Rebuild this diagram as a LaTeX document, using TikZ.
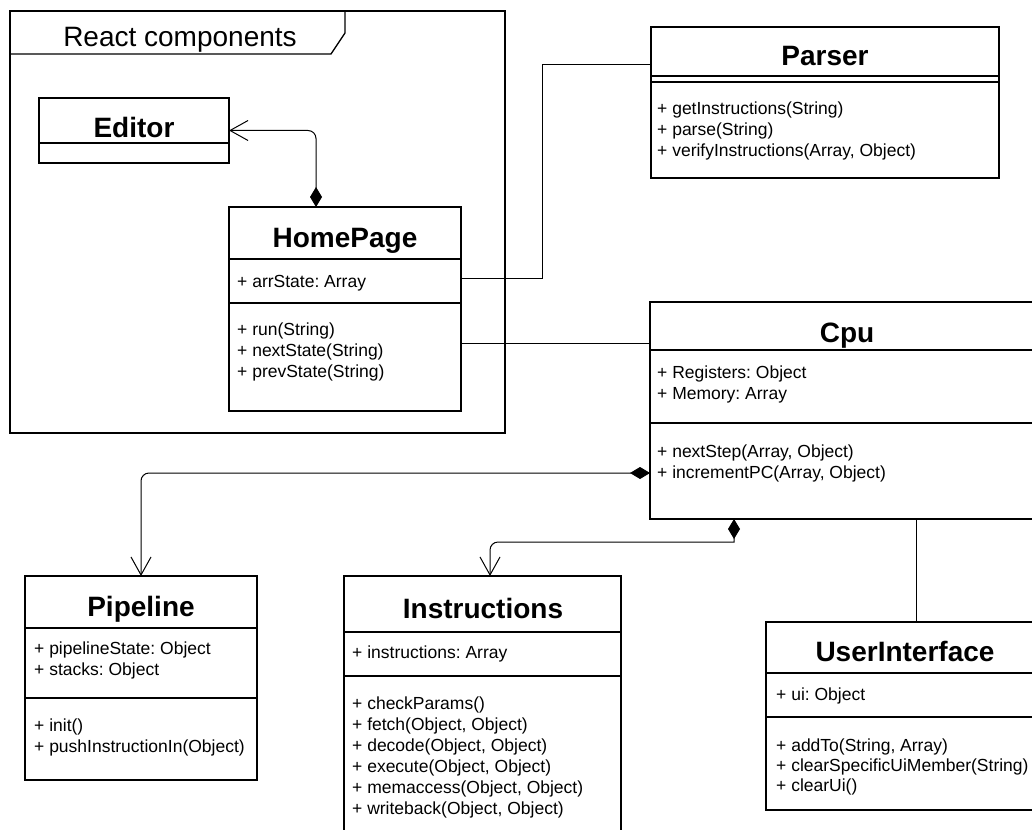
\documentclass[tikz,border=0pt]{standalone}
\usepackage{fontspec}
\setmainfont{Liberation Sans}
\usetikzlibrary{arrows.meta}
\frenchspacing
\begin{document}
\begin{tikzpicture}[x=1pt,y=-1pt,
  box/.style={draw=black, line width=1.3pt, fill=white, inner sep=0pt, outer sep=0pt, anchor=north west},
  sep/.style={line width=1.2pt},
  ctitle/.style={anchor=base, inner sep=0pt, font=\fontsize{28}{32}\selectfont\bfseries},
  mem/.style={anchor=base west, inner sep=0pt, font=\fontsize{17.5}{21}\selectfont},
  link/.style={line width=1pt},
  comp/.style={link, {Diamond[length=20pt,width=12pt]}-{Straight Barb[length=18pt,width=20pt]}},
]
\useasboundingbox (0,0) rectangle (1032,829);
\fill[white] (0,0) rectangle (1032,829);

% frame
\node[box, fill=none, minimum width=495pt, minimum height=422pt] (frame) at (10,11) {};
\draw[line width=1.3pt] (10,54) -- (331,54) -- (345,33) -- (345,11);
\node[anchor=base, inner sep=0pt, font=\fontsize{28}{32}\selectfont] (framelabel) at (180,47) {React components};

% Editor
\node[box, minimum width=190pt, minimum height=65pt] (editor) at (39,98) {};
\draw[sep] (editor.west |- 0,143) -- (editor.east |- 0,143);
\node[ctitle] (editorT) at (134,138) {Editor};

% HomePage
\node[box, minimum width=232pt, minimum height=204pt] (home) at (229,207) {};
\draw[sep] (home.west |- 0,259) -- (home.east |- 0,259);
\draw[sep] (home.west |- 0,303) -- (home.east |- 0,303);
\node[ctitle] (homeT) at (345,247) {HomePage};
\node[mem] (homeA1) at (237,287) {+ arrState: Array};
\node[mem] (homeM1) at (237,335) {+ run(String)};
\node[mem] (homeM2) at (237,356) {+ nextState(String)};
\node[mem] (homeM3) at (237,377) {+ prevState(String)};

% Parser
\node[box, minimum width=348pt, minimum height=151pt] (parser) at (651,27) {};
\draw[sep] (parser.west |- 0,76) -- (parser.east |- 0,76);
\draw[sep] (parser.west |- 0,82) -- (parser.east |- 0,82);
\node[ctitle] (parserT) at (825,66) {Parser};
\node[mem] (parserM1) at (657,115) {+ getInstructions(String)};
\node[mem] (parserM2) at (657,136) {+ parse(String)};
\node[mem] (parserM3) at (657,157) {+ verifyInstructions(Array, Object)};

% Cpu
\node[box, minimum width=394pt, minimum height=217pt] (cpu) at (650,302) {};
\draw[sep] (cpu.west |- 0,350) -- (cpu.east |- 0,350);
\draw[sep] (cpu.west |- 0,423) -- (cpu.east |- 0,423);
\node[ctitle] (cpuT) at (847,342) {Cpu};
\node[mem] (cpuA1) at (657,378) {+ Registers: Object};
\node[mem] (cpuA2) at (657,399) {+ Memory: Array};
\node[mem] (cpuM1) at (657,457) {+ nextStep(Array, Object)};
\node[mem] (cpuM2) at (657,478) {+ incrementPC(Array, Object)};

% Pipeline
\node[box, minimum width=232pt, minimum height=204pt] (pipeline) at (25,576) {};
\draw[sep] (pipeline.west |- 0,628) -- (pipeline.east |- 0,628);
\draw[sep] (pipeline.west |- 0,698) -- (pipeline.east |- 0,698);
\node[ctitle] (pipelineT) at (141,616) {Pipeline};
\node[mem] (pipelineA1) at (34,654) {+ pipelineState: Object};
\node[mem] (pipelineA2) at (34,675) {+ stacks: Object};
\node[mem] (pipelineM1) at (34,731) {+ init()};
\node[mem] (pipelineM2) at (34,752) {+ pushInstructionIn(Object)};

% Instructions
\node[box, minimum width=277pt, minimum height=264pt] (instr) at (344,576) {};
\draw[sep] (instr.west |- 0,632) -- (instr.east |- 0,632);
\draw[sep] (instr.west |- 0,676) -- (instr.east |- 0,676);
\node[ctitle] (instrT) at (483,618) {Instructions};
\node[mem] (instrA1) at (352,658) {+ instructions: Array};
\node[mem] (instrM1) at (352,709) {+ checkParams()};
\node[mem] (instrM2) at (352,730) {+ fetch(Object, Object)};
\node[mem] (instrM3) at (352,751) {+ decode(Object, Object)};
\node[mem] (instrM4) at (352,772) {+ execute(Object, Object)};
\node[mem] (instrM5) at (352,793) {+ memaccess(Object, Object)};
\node[mem] (instrM6) at (352,814) {+ writeback(Object, Object)};

% UserInterface
\node[box, minimum width=278pt, minimum height=188pt] (ui) at (766,622) {};
\draw[sep] (ui.west |- 0,673) -- (ui.east |- 0,673);
\draw[sep] (ui.west |- 0,717) -- (ui.east |- 0,717);
\node[ctitle] (uiT) at (905,661) {UserInterface};
\node[mem] (uiA1) at (776,700) {+ ui: Object};
\node[mem] (uiM1) at (776,751) {+ addTo(String, Array)};
\node[mem] (uiM2) at (776,771) {+ clearSpecificUiMember(String)};
\node[mem] (uiM3) at (776,791) {+ clearUi()};

% connectors
\draw[comp, rounded corners=8pt] (home.north -| 316,0) |- (editor.east);
\draw[link] (home.east |- 0,278) -- (542,278) |- (parser.west |- 0,65);
\draw[link] (home.east |- 0,343) -- (cpu.west |- 0,343);
\draw[comp, rounded corners=8pt] (cpu.west |- 0,473) -| (pipeline.north);
\draw[comp] (cpu.south -| 734,0) -- (734,542) [rounded corners=8pt] -| (instr.north -| 490,0);
\draw[link] (cpu.south -| 916,0) -- (ui.north -| 916,0);
\end{tikzpicture}
\end{document}
